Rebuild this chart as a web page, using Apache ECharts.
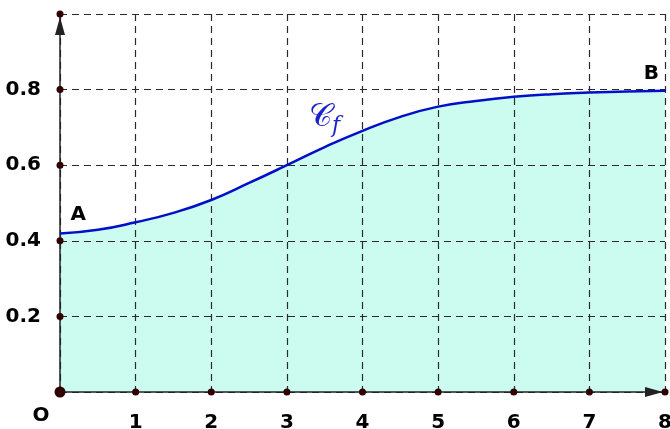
<!DOCTYPE html>
<html>
<head>
<meta charset="utf-8">
<script src="https://cdn.jsdelivr.net/npm/echarts@6/dist/echarts.min.js"></script>
<style>html,body{margin:0;padding:0;background:#fff;}#c{width:670px;height:429px;}</style>
</head>
<body>
<div id="c"></div>
<script>
// Curve samples
const xs = [0, 0.5, 1, 1.5, 2, 2.5, 3, 3.5, 4, 4.5, 5, 5.5, 6, 6.5, 7, 7.5, 8];
const fvals = [0.419, 0.429, 0.449, 0.474, 0.508, 0.553, 0.6, 0.648, 0.691, 0.728, 0.755, 0.77, 0.781, 0.788, 0.792, 0.795, 0.797];
// Tick positions
const xTicks = [1, 2, 3, 4, 5, 6, 7, 8];
const yTicks = [0.2, 0.4, 0.6, 0.8, 1.0];
const yTickLabels = ['0.2', '0.4', '0.6', '0.8'];
// Annotations [x, y, text]
const notes = [[0.24, 0.468, 'A'], [7.82, 0.843, 'B'], [-0.25, -0.062, 'O']];
const curveName = [[3.5, 0.725]];

const chart = echarts.init(document.getElementById('c'));
const dash = {color: '#2a2a2a', width: 1.2, type: [7, 5]};
const curve = xs.map((x, i) => [x, fvals[i]]);
const lblFont = 'DejaVu Sans';
chart.setOption({
  animation: false,
  grid: {left: 60, right: 5, top: 14, bottom: 37, containLabel: false, outerBoundsMode: 'none'},
  xAxis: {
    type: 'value', min: 0, max: 8, interval: 1, z: 3,
    axisLine: {show: true, onZero: false, symbol: ['none', 'triangle'], symbolSize: [10, 18], symbolOffset: [0, -11], lineStyle: {color: '#222', width: 1.5}},
    axisTick: {show: false},
    axisLabel: {margin: 21, fontSize: 20, fontWeight: 'bold', color: '#000', fontFamily: lblFont,
      formatter: v => (v === 0 ? '' : String(v))},
    splitLine: {show: true, lineStyle: dash}
  },
  yAxis: {
    type: 'value', min: 0, max: 1, interval: 0.2, z: 3,
    axisLine: {show: true, onZero: false, symbol: ['none', 'triangle'], symbolSize: [10, 18], symbolOffset: [0, -12], lineStyle: {color: '#222', width: 1.5}},
    axisTick: {show: false},
    axisLabel: {margin: 19, fontSize: 20, fontWeight: 'bold', color: '#000', fontFamily: lblFont,
      formatter: v => { const s = v.toFixed(1); return yTickLabels.indexOf(s) >= 0 ? s : ''; }},
    splitLine: {show: true, lineStyle: dash}
  },
  series: [
    {
      type: 'line', data: curve, smooth: 0.5, symbol: 'none',
      lineStyle: {width: 0, opacity: 0},
      areaStyle: {color: '#ccfcf0', opacity: 1},
      z: 1
    },
    {
      type: 'line', data: curve, smooth: 0.5, symbol: 'none',
      lineStyle: {color: '#0010c8', width: 2.5},
      z: 4
    },
    {
      type: 'scatter', clip: false, symbolSize: 7, itemStyle: {color: '#300000', opacity: 1},
      data: xTicks.map(x => [x, 0]).concat(yTicks.map(y => [0, y])), z: 5
    },
    {
      type: 'scatter', clip: false, symbolSize: 11, itemStyle: {color: '#300000', opacity: 1},
      data: [[0, 0]], z: 6
    },
    {
      type: 'scatter', clip: false, symbolSize: 0, silent: true,
      itemStyle: {opacity: 1},
      data: notes,
      label: {show: true, position: 'inside', formatter: p => p.data[2], fontSize: 20, fontWeight: 'bold', color: '#000', fontFamily: lblFont},
      z: 7
    },
    {
      type: 'scatter', clip: false, symbolSize: 0, silent: true,
      itemStyle: {opacity: 1},
      data: curveName,
      label: {show: true, position: 'inside', formatter: '{c|\uD835\uDC9E}{f|f}',
        rich: {
          c: {fontSize: 32, fontFamily: 'DejaVu Serif', color: '#1a22cc'},
          f: {fontSize: 22, fontStyle: 'italic', fontFamily: 'DejaVu Serif', color: '#1a22cc', padding: [16, 0, 0, 0]}
        }},
      z: 7
    }
  ]
});
</script>
</body>
</html>
